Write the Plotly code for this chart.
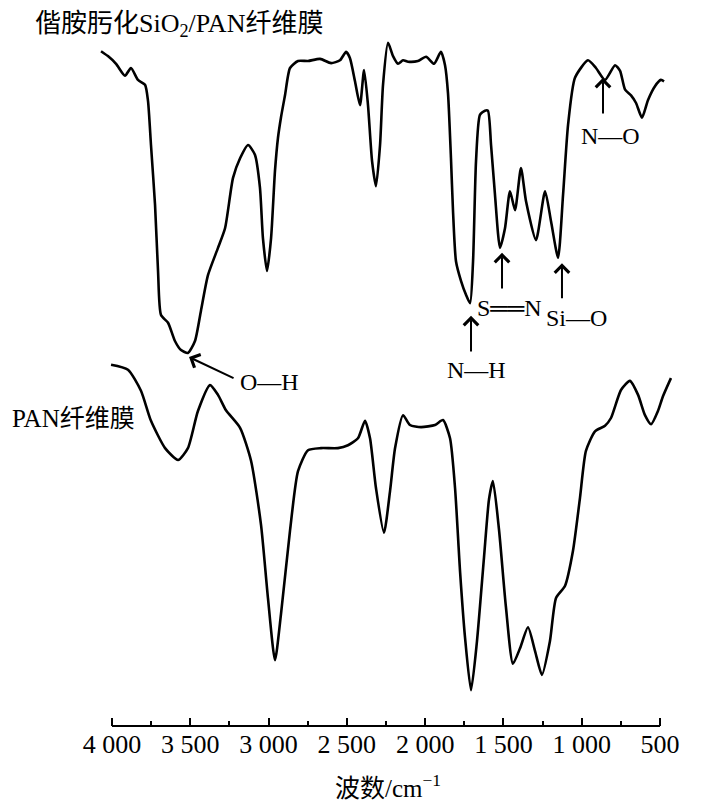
import plotly.graph_objects as go

# Upper spectrum: amidoximated SiO2/PAN fibre membrane
wn_top = [4070, 4026, 3974, 3917, 3879, 3834, 3789, 3770, 3751, 3725, 3706, 3687, 3642, 3598, 3559,
          3515, 3470, 3432, 3387, 3323, 3278, 3227, 3182, 3131, 3087, 3055, 3036, 3010, 2984, 2959,
          2940, 2921, 2895, 2863, 2812, 2748, 2671, 2601, 2544, 2505, 2480, 2448, 2416, 2390, 2365,
          2339, 2314, 2288, 2269, 2237, 2205, 2173, 2141, 2109, 2046, 1994, 1943, 1899, 1873, 1854,
          1835, 1822, 1803, 1771, 1739, 1713, 1694, 1675, 1650, 1618, 1599, 1579, 1554, 1522, 1490,
          1458, 1426, 1388, 1356, 1292, 1234, 1196, 1151, 1119, 1087, 1043, 960, 909, 851, 787,
          755, 723, 685, 653, 615, 577, 532, 494, 474]
t_top = [96.4, 95.7, 94.6, 92.9, 94.0, 92.3, 91.6, 89.3, 83.0, 74.4, 65.0, 58.7, 57.6, 55.0, 53.7,
         53.3, 55.0, 59.3, 64.4, 68.3, 71.1, 78.3, 81.1, 83.0, 81.6, 76.9, 69.7, 65.0, 69.7, 79.3,
         84.0, 86.9, 90.1, 94.0, 95.0, 95.0, 95.3, 94.7, 95.1, 96.3, 95.4, 92.1, 88.7, 93.7, 88.7,
         80.7, 77.1, 83.0, 91.6, 97.6, 95.7, 94.6, 95.1, 94.9, 95.0, 95.6, 94.6, 96.3, 94.4, 90.4,
         81.1, 73.6, 66.4, 63.6, 61.6, 60.4, 66.4, 80.7, 87.3, 87.9, 87.9, 83.0, 75.9, 68.3, 71.1,
         76.4, 73.7, 79.7, 75.0, 69.4, 76.4, 72.1, 66.9, 75.9, 85.9, 92.6, 95.1, 94.0, 92.3, 94.4,
         93.6, 90.9, 90.1, 89.0, 86.9, 89.4, 91.4, 92.3, 92.1]

# Lower spectrum: PAN fibre membrane
wn_bot = [4006, 3898, 3815, 3751, 3661, 3578, 3515, 3451, 3374, 3323, 3272, 3182, 3112, 3048, 3004,
          2959, 2921, 2863, 2812, 2748, 2665, 2557, 2493, 2429, 2384, 2352, 2314, 2263, 2224, 2192,
          2141, 2097, 2026, 1937, 1886, 1841, 1809, 1777, 1745, 1707, 1669, 1624, 1592, 1567, 1528,
          1484, 1439, 1394, 1343, 1298, 1254, 1203, 1164, 1107, 1056, 1011, 973, 915, 851, 813,
          749, 692, 640, 596, 557, 513, 481, 430]
t_bot = [51.6, 50.9, 47.9, 43.6, 39.7, 38.0, 39.7, 45.0, 48.7, 47.3, 45.1, 42.6, 37.9, 28.7, 18.3,
         9.4, 15.9, 27.9, 36.4, 39.4, 39.7, 39.7, 40.1, 41.1, 43.6, 41.1, 34.0, 27.6, 33.6, 39.7,
         44.4, 43.0, 42.7, 43.0, 43.7, 41.1, 34.0, 22.1, 12.6, 5.1, 12.1, 24.1, 32.4, 35.0, 28.0,
         17.0, 8.9, 11.1, 14.1, 10.7, 7.3, 12.1, 18.3, 20.0, 25.0, 32.6, 39.3, 42.1, 42.9, 44.0,
         48.0, 49.3, 47.3, 44.4, 43.1, 45.0, 47.1, 49.7]

tick_vals = [4000, 3500, 3000, 2500, 2000, 1500, 1000, 500]
tick_text = ["4 000", "3 500", "3 000", "2 500", "2 000", "1 500", "1 000", "500"]
minor_vals = [3750, 3250, 2750, 2250, 1750, 1250, 750]

FONT = "Liberation Serif, Times New Roman, Noto Sans CJK SC"

fig = go.Figure()
for wn, t in [(wn_top, t_top), (wn_bot, t_bot)]:
    fig.add_trace(go.Scatter(x=wn, y=t, mode="lines",
                             line=dict(color="black", width=2.6, shape="spline", smoothing=0.6),
                             showlegend=False, hoverinfo="skip"))

# axis base line from 4000 to 500
fig.add_shape(type="line", xref="x", yref="paper", x0=4000, x1=500, y0=0, y1=0,
              line=dict(color="black", width=2))

# band labels with arrows: (tip_x, tip_y, tail_x, tail_y, text, text_x, text_y)
bands = [
    (3508, 52.7, 3214, 49.6, "O—H", 2991, 49.1),
    (1707, 58.6, 1707, 53.3, "N—H", 1669, 50.9),
    (1509, 67.6, 1509, 62.3, "S══N", 1464, 59.7),
    (1126, 66.1, 1126, 60.9, "Si—O", 1036, 58.3),
    (864, 92.6, 864, 87.3, "N—O", 813, 84.3),
]
for tx, ty, ax, ay, txt, lx, ly in bands:
    fig.add_annotation(x=tx, y=ty, ax=ax, ay=ay, xref="x", yref="y", axref="x", ayref="y",
                       text="", showarrow=True, arrowhead=4, arrowsize=1.4, arrowwidth=2,
                       arrowcolor="black")
    fig.add_annotation(x=lx, y=ly, xref="x", yref="y", text=txt, showarrow=False,
                       font=dict(family=FONT, size=24, color="black"))

fig.add_annotation(x=-0.117, y=1.001, xref="paper", yref="paper", xanchor="left", yanchor="middle",
                   text="偕胺肟化SiO<sub>2</sub>/PAN纤维膜", showarrow=False,
                   font=dict(family=FONT, size=26, color="black"))
fig.add_annotation(x=-0.157, y=0.4386, xref="paper", yref="paper", xanchor="left", yanchor="middle",
                   text="PAN纤维膜", showarrow=False,
                   font=dict(family=FONT, size=25, color="black"))
fig.add_annotation(x=0.5035, y=-0.0857, xref="paper", yref="paper", xanchor="center", yanchor="middle",
                   text="波数/cm<sup>−1</sup>", showarrow=False,
                   font=dict(family=FONT, size=25, color="black"))

fig.update_layout(
    width=704, height=800,
    margin=dict(l=92, r=40, t=18, b=82),
    paper_bgcolor="white", plot_bgcolor="white",
    xaxis=dict(range=[4076.6, 423.3], tickvals=tick_vals, ticktext=tick_text,
               ticks="inside", ticklen=8, tickwidth=2, tickcolor="black",
               minor=dict(ticks="inside", ticklen=5, tickwidth=2, tickcolor="black",
                          tickvals=minor_vals),
               showline=False, showgrid=False, zeroline=False,
               tickfont=dict(family=FONT, size=26, color="black")),
    yaxis=dict(range=[0, 100], visible=False, showgrid=False, zeroline=False),
)

fig.write_html("out.html")
